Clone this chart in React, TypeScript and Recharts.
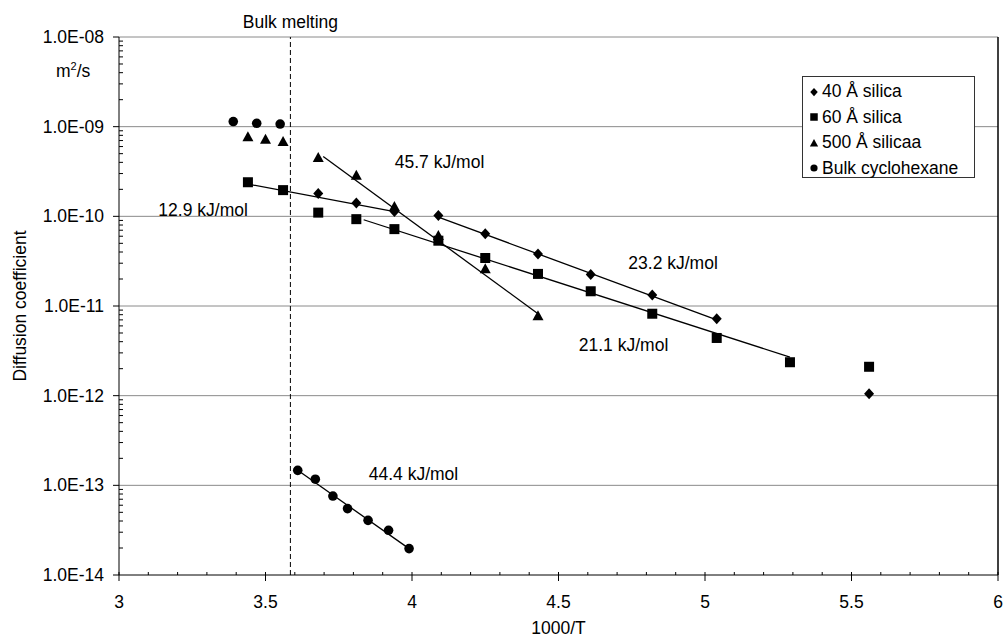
import React from "react";
import { ScatterChart, Scatter, XAxis, YAxis, ReferenceLine, ReferenceDot } from "recharts";

const FONT = '"Liberation Sans", Arial, Helvetica, sans-serif';
const FS = 17.5;

// 40 Å silica (diamonds)
const s40X = [3.68, 3.81, 3.94, 4.09, 4.25, 4.43, 4.61, 4.82, 5.04, 5.56];
const s40Y = [1.8e-10, 1.41e-10, 1.13e-10, 1.02e-10, 6.4e-11, 3.8e-11, 2.25e-11, 1.33e-11, 7.2e-12, 1.05e-12];

// 60 Å silica (squares)
const s60X = [3.44, 3.56, 3.68, 3.81, 3.94, 4.09, 4.25, 4.43, 4.61, 4.82, 5.04, 5.29, 5.56];
const s60Y = [2.4e-10, 1.96e-10, 1.1e-10, 9.3e-11, 7.2e-11, 5.35e-11, 3.43e-11, 2.28e-11, 1.46e-11, 8.2e-12, 4.4e-12, 2.36e-12, 2.1e-12];

// 500 Å silica (triangles)
const s500X = [3.44, 3.5, 3.56, 3.68, 3.81, 3.94, 4.09, 4.25, 4.43];
const s500Y = [7.7e-10, 7.26e-10, 6.83e-10, 4.53e-10, 2.88e-10, 1.29e-10, 6.1e-11, 2.6e-11, 7.8e-12];

// bulk cyclohexane (circles)
const bulkX = [3.39, 3.47, 3.55, 3.61, 3.67, 3.73, 3.78, 3.85, 3.92, 3.99];
const bulkY = [1.14e-9, 1.09e-9, 1.07e-9, 1.47e-13, 1.17e-13, 7.6e-14, 5.5e-14, 4.07e-14, 3.15e-14, 1.97e-14];

// Arrhenius fit lines (end points)
const fit129X = [3.44, 3.94];
const fit129Y = [2.29e-10, 1.13e-10];
const fit457X = [3.697, 4.43];
const fit457Y = [4.64e-10, 8.2e-12];
const fit232X = [4.09, 5.04];
const fit232Y = [9.8e-11, 7.0e-12];
const fit211X = [3.835, 5.29];
const fit211Y = [9.16e-11, 2.69e-12];
const fit444X = [3.61, 3.99];
const fit444Y = [1.47e-13, 1.97e-14];

const noteText = ["45.7 kJ/mol", "12.9 kJ/mol", "23.2 kJ/mol", "21.1 kJ/mol", "44.4 kJ/mol"];
const noteX = [4.094, 3.287, 4.891, 4.722, 4.005];
const noteY = [4.06e-10, 1.18e-10, 3.04e-11, 3.72e-12, 1.36e-13];

const meltX = 3.585;

const legendNames = ["40 Å silica", "60 Å silica", "500 Å silicaa", "Bulk cyclohexane"];

const xTicks = [3, 3.1, 3.2, 3.3, 3.4, 3.5, 3.6, 3.7, 3.8, 3.9, 4, 4.1, 4.2, 4.3, 4.4, 4.5, 4.6, 4.7, 4.8, 4.9, 5, 5.1, 5.2, 5.3, 5.4, 5.5, 5.6, 5.7, 5.8, 5.9, 6];
const decades = [1e-14, 1e-13, 1e-12, 1e-11, 1e-10, 1e-9, 1e-8];
const yTicks = decades.concat(decades.slice(0, -1).flatMap((d) => [2, 3, 4, 5, 6, 7, 8, 9].map((m) => m * d)));

const pts = (xs: number[], ys: number[]) => xs.map((x, i) => ({ x, y: ys[i] }));

const Diamond = ({ cx, cy, s = 1 }: any) => (
  <polygon points={`${cx},${cy - 5.5 * s} ${cx + 5 * s},${cy} ${cx},${cy + 5.5 * s} ${cx - 5 * s},${cy}`} fill="#000" />
);
const Square = ({ cx, cy, s = 1 }: any) => <rect x={cx - 5 * s} y={cy - 5 * s} width={10 * s} height={10 * s} fill="#000" />;
const Triangle = ({ cx, cy, s = 1 }: any) => (
  <polygon points={`${cx},${cy - 5.5 * s} ${cx + 5.5 * s},${cy + 4.5 * s} ${cx - 5.5 * s},${cy + 4.5 * s}`} fill="#000" />
);
const Circle = ({ cx, cy, s = 1 }: any) => <circle cx={cx} cy={cy} r={4.8 * s} fill="#000" />;
const NoShape = () => <g />;

const markers = [Diamond, Square, Triangle, Circle];

const XTick = ({ x, y, payload }: any) => {
  const v = payload.value;
  const major = Math.abs(v * 2 - Math.round(v * 2)) < 1e-6;
  return (
    <g>
      <line x1={x} x2={x} y1={y - 3} y2={major ? y + 6 : y} stroke="#000" />
      {major && (
        <text x={x} y={y + 33} textAnchor="middle" fontSize={FS} fontFamily={FONT} fill="#000">
          {String(v)}
        </text>
      )}
    </g>
  );
};

const YTick = ({ x, y, payload }: any) => {
  const lg = Math.log10(payload.value);
  const major = Math.abs(lg - Math.round(lg)) < 1e-6;
  if (!major) return <line x1={x} x2={x + 4} y1={y} y2={y} stroke="#000" />;
  const e = -Math.round(lg);
  return (
    <g>
      <line x1={x - 6} x2={x} y1={y} y2={y} stroke="#000" />
      <text x={x - 15} y={y + 6} textAnchor="end" fontSize={FS} fontFamily={FONT} fill="#000">
        {`1.0E-${String(e).padStart(2, "0")}`}
      </text>
    </g>
  );
};

const YTitle = ({ viewBox }: any) => {
  const cx = viewBox.x + 20;
  const cy = viewBox.y + viewBox.height / 2;
  return (
    <text x={cx} y={cy} transform={`rotate(-90 ${cx} ${cy})`} textAnchor="middle" dominantBaseline="central" fontSize={FS} fontFamily={FONT} fill="#000">
      Diffusion coefficient
    </text>
  );
};

const fits = [
  [fit129X, fit129Y],
  [fit457X, fit457Y],
  [fit232X, fit232Y],
  [fit211X, fit211Y],
  [fit444X, fit444Y],
];

const series = [
  [s40X, s40Y],
  [s60X, s60Y],
  [s500X, s500Y],
  [bulkX, bulkY],
];

export default function App() {
  return (
    <div style={{ position: "absolute", left: 0, top: 0, width: 1005, height: 638, background: "#fff", fontFamily: FONT }}>
      <ScatterChart width={1005} height={638} margin={{ top: 37, right: 7, bottom: 0, left: 0 }}>
        <XAxis
          type="number"
          dataKey="x"
          domain={[3, 6]}
          ticks={xTicks}
          interval={0}
          tickSize={0}
          tickMargin={0}
          tickLine={false}
          tick={<XTick />}
          axisLine={{ stroke: "#000" }}
          height={63}
          label={{ value: "1000/T", position: "insideBottom", offset: 4, fontSize: FS, fill: "#000", fontFamily: FONT }}
        />
        <YAxis
          type="number"
          dataKey="y"
          scale="log"
          domain={[1e-14, 1e-8]}
          allowDataOverflow
          ticks={yTicks}
          interval={0}
          tickSize={0}
          tickMargin={0}
          tickLine={false}
          tick={<YTick />}
          axisLine={{ stroke: "#000" }}
          width={119}
          label={{ content: <YTitle /> }}
        />
        {decades.slice(1).map((d) => (
          <ReferenceLine key={d} y={d} stroke="#8a8a8a" strokeWidth={1} />
        ))}
        <ReferenceLine x={6} stroke="#000" strokeWidth={1.5} />
        <ReferenceLine
          x={meltX}
          stroke="#000"
          strokeDasharray="5 3"
          label={{ value: "Bulk melting", position: "top", offset: 9, fontSize: FS, fill: "#000", fontFamily: FONT }}
        />
        {fits.map(([xs, ys], i) => (
          <Scatter
            key={"fit" + i}
            data={pts(xs, ys)}
            line={{ stroke: "#000", strokeWidth: 1.3 }}
            shape={<NoShape />}
            legendType="none"
            isAnimationActive={false}
          />
        ))}
        {series.map(([xs, ys], i) => {
          const M = markers[i];
          return <Scatter key={"s" + i} name={legendNames[i]} data={pts(xs, ys)} shape={<M />} isAnimationActive={false} />;
        })}
        {noteText.map((t, i) => (
          <ReferenceDot
            key={t}
            x={noteX[i]}
            y={noteY[i]}
            r={0}
            fill="none"
            stroke="none"
            label={{ value: t, position: "center", fontSize: FS, fill: "#000", fontFamily: FONT }}
          />
        ))}
      </ScatterChart>
      <div style={{ position: "absolute", left: 56, top: 61, fontSize: FS, lineHeight: "20px", color: "#000" }}>
        m<span style={{ fontSize: 11, position: "relative", top: -7 }}>2</span>/s
      </div>
      <div
        style={{
          position: "absolute",
          left: 802,
          top: 76,
          width: 173,
          height: 102,
          border: "1px solid #333",
          background: "#fff",
          paddingTop: 2,
          boxSizing: "border-box",
        }}
      >
        {legendNames.map((n, i) => {
          const M = markers[i];
          return (
            <div key={n} style={{ display: "flex", alignItems: "center", height: 25.5, fontSize: FS, color: "#000", whiteSpace: "nowrap" }}>
              <svg width={12} height={12} style={{ marginLeft: 5, marginRight: 2 }}>
                <M cx={6} cy={6} s={0.75} />
              </svg>
              {n}
            </div>
          );
        })}
      </div>
    </div>
  );
}
